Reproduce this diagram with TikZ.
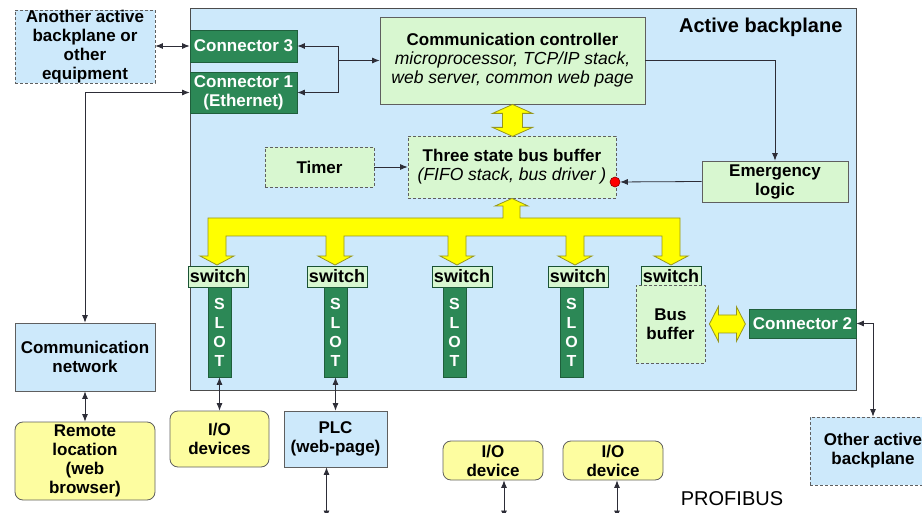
\documentclass[tikz,border=0pt]{standalone}
\usepackage{fontspec}
\setmainfont{Liberation Sans}
\usetikzlibrary{arrows.meta,calc}

\definecolor{planeblue}{RGB}{205,233,251}
\definecolor{palegreen}{RGB}{216,247,208}
\definecolor{slotgreen}{RGB}{44,136,86}
\definecolor{paleyellow}{RGB}{253,253,160}
\definecolor{busyellow}{RGB}{255,255,0}
\definecolor{busedge}{RGB}{150,150,30}
\definecolor{edgegray}{RGB}{95,95,95}
\definecolor{linegray}{RGB}{45,45,55}

\begin{document}
\begin{tikzpicture}[x=1pt, y=-1pt,
    lbl/.style={font=\bfseries\fontsize{17}{19}\selectfont},
    box/.style={draw=edgegray, line width=0.8pt, inner sep=0pt, align=center, lbl},
    greenbox/.style={box, fill=palegreen},
    bluebox/.style={box, fill=planeblue},
    dashbox/.style={dash pattern=on 3pt off 2pt},
    conbox/.style={box, fill=slotgreen, draw=slotgreen!70!black, text=white},
    slotbar/.style={conbox, font=\bfseries\fontsize{16}{19}\selectfont},
    switchbox/.style={greenbox, draw=slotgreen!60!black, minimum width=60, minimum height=21, font=\bfseries\fontsize{18}{19}\selectfont},
    roundbox/.style={box, fill=paleyellow, rounded corners=8pt},
    arr/.style={-{Latex[length=7.5pt,width=6pt]}, draw=linegray, line width=0.8pt},
    biarr/.style={{Latex[length=7.5pt,width=6pt]}-{Latex[length=7.5pt,width=6pt]}, draw=linegray, line width=0.8pt},
    fat/.style={fill=busyellow, draw=busedge, line width=0.8pt, line join=miter}]

    \useasboundingbox (0,0) rectangle (922,513);

    % Active backplane
    \node[bluebox, draw=edgegray!80!black, line width=1pt, minimum width=666, minimum height=381] (plane) at (523,199.5) {};
    \node[font=\bfseries\fontsize{20}{22}\selectfont, anchor=east] (title) at (846,27) {Active backplane};

    % Connectors on the left edge
    \node[conbox, minimum width=107, minimum height=32] (conn3) at (243.5,46) {Connector 3};
    \node[conbox, minimum width=107, minimum height=41] (conn1) at (243.5,92.5) {Connector 1\\(Ethernet)};

    % Communication controller
    \node[greenbox, minimum width=265, minimum height=87] (ctrl) at (512.5,60.5)
        {Communication controller\\
        {\mdseries\itshape\fontsize{17.5}{19}\selectfont microprocessor, TCP/IP stack,}\\
        {\mdseries\itshape\fontsize{17.5}{19}\selectfont web server, common web page}};

    % Bus buffer, timer, emergency logic
    \node[greenbox, dashbox, minimum width=208, minimum height=62] (buffer) at (512,167)
        {Three state bus buffer\\
        {\mdseries\itshape\fontsize{17.5}{19}\selectfont (FIFO stack, bus driver )}};
    \node[greenbox, dashbox, minimum width=109, minimum height=40] (timer) at (319.5,167) {Timer};
    \node[greenbox, minimum width=146, minimum height=41] (emerg) at (775,181.5) {Emergency\\logic};
    \node[circle, fill=red, draw=red!55!black, line width=0.6pt, minimum size=10, inner sep=0pt] (dot) at (615,182) {};

    % Switches and slots
    \node[switchbox] (sw1) at (218,276.5) {switch};
    \node[switchbox] (sw2) at (337,276.5) {switch};
    \node[switchbox] (sw3) at (462,276.5) {switch};
    \node[switchbox] (sw4) at (578,276.5) {switch};
    \node[switchbox] (sw5) at (671,276.5) {switch};
    \node[slotbar, minimum width=23, minimum height=90] (slot1) at (219.5,332) {S\\L\\O\\T};
    \node[slotbar, minimum width=23, minimum height=90] (slot2) at (335.5,332) {S\\L\\O\\T};
    \node[slotbar, minimum width=23, minimum height=90] (slot3) at (454.5,332) {S\\L\\O\\T};
    \node[slotbar, minimum width=23, minimum height=90] (slot4) at (571.5,332) {S\\L\\O\\T};
    \node[greenbox, dashbox, minimum width=69, minimum height=78] (busbuf) at (670.5,324) {Bus\\buffer};
    \node[conbox, minimum width=107, minimum height=29] (conn2) at (802.5,323.5) {Connector 2};

    % Outside the backplane
    \node[bluebox, dashbox, minimum width=140, minimum height=73] (another) at (85,46.5)
        {Another active\\backplane or\\other\\equipment};
    \node[bluebox, minimum width=140, minimum height=68] (commnet) at (85,357) {Communication\\network};
    \node[roundbox, minimum width=140, minimum height=78] (remote) at (85,461) {Remote\\location\\(web\\browser)};
    \node[roundbox, minimum width=99, minimum height=56] (iodevs) at (219.5,439) {I/O\\devices};
    \node[bluebox, minimum width=103, minimum height=56] (plc) at (335.5,439) {PLC\\(web-page)};
    \node[roundbox, minimum width=100, minimum height=39] (iodev1) at (493,460.5) {I/O\\device};
    \node[roundbox, minimum width=100, minimum height=39] (iodev2) at (613,460.5) {I/O\\device};
    \node[bluebox, dashbox, minimum width=126, minimum height=68] (other) at (873,451) {Other active\\backplane};
    \node[font=\fontsize{20}{22}\selectfont] (profibus) at (732,499) {PROFIBUS};

    % Yellow data buses
    \draw[fat] (ctrl.south) -- ++(20,9) -- ++(-10,0) -- ++(0,14) -- ++(10,0) -- ++(-20,9)
        -- ++(-20,-9) -- ++(10,0) -- ++(0,-14) -- ++(-10,0) -- cycle;
    \draw[fat] (208,218) -- (503,218) -- (503,206) -- (495,206) -- (buffer.south) -- (528,206)
        -- (520,206) -- (520,218) -- (680,218)
        foreach \c in {671,575,457,335,217} {
            -- (\c+9,236) -- (\c+9,256) -- (\c+17,256) -- (\c,265) -- (\c-17,256) -- (\c-9,256) -- (\c-9,236)
        } -- cycle;
    \draw[fat] ([xshift=4]busbuf.east) -- ++(9,-17.5) -- ++(0,8.5) -- ++(18,0) -- ++(0,-8.5) -- ++(9,17.5)
        -- ++(-9,17.5) -- ++(0,-8.5) -- ++(-18,0) -- ++(0,8.5) -- cycle;

    % Links
    \coordinate (split) at (338,60.5);
    \draw[arr] (split) -- (ctrl.west);
    \draw[arr] (split) |- (conn3.east);
    \draw[arr] (split) |- (conn1.east);
    \draw[biarr] (another.east |- conn3.east) -- (conn3.west);
    \draw[biarr] (commnet.north) |- (conn1.west);
    \draw[biarr] (commnet.south) -- (remote.north);
    \draw[arr] (ctrl.east) -| (emerg.north);
    \draw[arr] (emerg.west) -- (dot);
    \draw[arr] (timer) -- (buffer);
    \draw[biarr] (slot1.south) -- (iodevs.north);
    \draw[biarr] (slot2.south) -- (plc.north);
    \draw[biarr] (conn2.east) -| (other.north);

    % Field bus drops
    \coordinate (plcbus) at ([xshift=-9]plc.south |- 0,518);
    \coordinate (io1bus) at ([xshift=11]iodev1.south |- 0,518);
    \coordinate (io2bus) at ([xshift=4]iodev2.south |- 0,518);
    \draw[biarr] ([xshift=-9]plc.south) -- (plcbus);
    \draw[biarr] ([xshift=11]iodev1.south) -- (io1bus);
    \draw[biarr] ([xshift=4]iodev2.south) -- (io2bus);
\end{tikzpicture}
\end{document}
